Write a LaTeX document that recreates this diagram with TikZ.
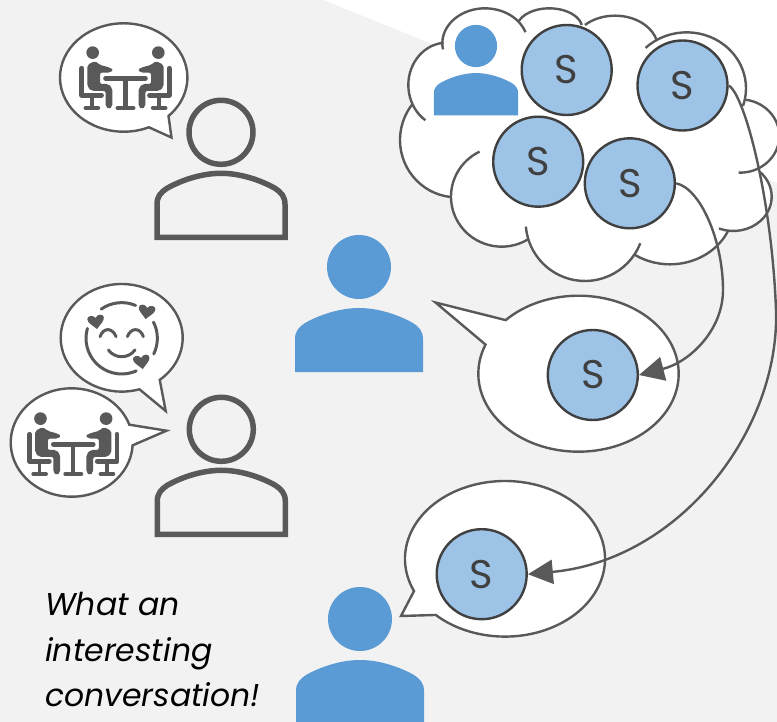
\documentclass[tikz,border=0pt]{standalone}
\usepackage{fontspec}
\setsansfont{Poppins}
\usetikzlibrary{arrows.meta}
\definecolor{backgray}{HTML}{F2F2F2}
\definecolor{linegray}{HTML}{595959}
\definecolor{darkgray}{HTML}{404040}
\definecolor{personblue}{HTML}{5B9BD5}
\definecolor{lightblue}{HTML}{9DC3E6}
\tikzset{
	personfig/.pic={
		\path[pic actions] (0,0) circle (32);
		\path[pic actions] (-64,105) -- (-64,72) .. controls (-64,64) and (-60,60) .. (-54,56) .. controls (-38,47) and (-18,41) .. (0,41) .. controls (18,41) and (38,47) .. (54,56) .. controls (60,60) and (64,64) .. (64,72) -- (64,105) -- cycle;
	},
	meetingfig/.pic={
		\foreach \s in {1,-1} {
			\begin{scope}[xscale=\s]
				\fill[linegray] (-98.5,-77) circle (19);
				\fill[linegray,rounded corners=2pt] (-114.5,-40) -- (-91.5,-52) -- (-76.5,-40) -- (-46.5,-32) -- (-36.5,-25) -- (-46.5,-17) -- (-76.5,-17) -- (-76.5,17) -- (-51.5,17) -- (-39.5,30) -- (-39.5,85) -- (-49.5,93) -- (-59.5,85) -- (-59.5,38) -- (-101.5,38) -- (-114.5,25) -- cycle;
				\draw[linegray,line width=4.8,line cap=round,line join=round] (-131,-30) -- (-131,51) -- (-72,51);
				\draw[linegray,line width=3.4] (-101,51) -- (-101,89);
				\draw[linegray,line width=4,line cap=round] (-120,89) -- (-82,89);
			\end{scope}
		}
		\draw[linegray,line width=4.6,line cap=round] (-60,0) -- (60,0);
		\draw[linegray,line width=4.2] (0,0) -- (0,89);
		\draw[linegray,line width=4,line cap=round] (-24,89) -- (24,89);
	},
	heartfig/.pic={
		\fill[linegray] (0,.9) .. controls (-.5,.35) and (-1,.05) .. (-1,-.4) .. controls (-1,-.8) and (-.3,-.95) .. (0,-.45) .. controls (.3,-.95) and (1,-.8) .. (1,-.4) .. controls (1,.05) and (.5,.35) .. (0,.9) -- cycle;
	},
	cloudline/.style={draw=linegray,line width=2.4},
	bubbleline/.style={draw=linegray,fill=white,line width=2.4,line join=miter},
	sharenode/.style={circle,draw=darkgray,fill=lightblue,line width=2.4,minimum size=90pt,inner sep=0pt,text=darkgray,font=\sffamily\fontsize{40}{44}\selectfont},
	sharelink/.style={linegray,line width=2.4,-{Triangle[length=25pt,width=24pt]}},
}
\begin{document}
\begin{tikzpicture}[x=1pt,y=-1pt]
	\clip (0,0) rectangle (777,722);
	\fill[white] (0,0) rectangle (777,722);
	\fill[backgray] (0,0) -- (323,0) -- (777,183) -- (777,722) -- (0,722) -- cycle;

	\begin{scope}[shift={(390,0)},x=.33333pt,y=-.33333pt]
		\def\cloudlobes{%
			285/130/128/105/170/341.5,%
			478/85/98.5/60/199.4/350.4,%
			675/145/129/98/225.6/345.3,%
			890/265/178/168/226.2/378.3,%
			1050/408/118/110/279/452,%
			1030/590/115/103/314/472,%
			840/620/192/173/25/123,%
			585/665/178/178/21.3/175.2,%
			335/590/152/150/58.8/244.2,%
			200/420/170/172/95.6/218.2,%
			170/255/115/127/123.8/265%
		}
		\foreach \cx/\cy/\rx/\ry/\a/\b in \cloudlobes {
			\fill[white] ({\cx+\rx*cos(\a)},{\cy+\ry*sin(\a)}) arc[start angle=\a,end angle=\b,x radius=\rx,y radius=\ry] -- cycle;
		}
		\fill[white] (160,128) -- (388,68) -- (580,78) -- (790,105) -- (1066,298) -- (1112,508) -- (1018,692) -- (735,765) -- (413,720) -- (183,592) -- (68,315) -- cycle;
		\foreach \cx/\cy/\rx/\ry/\a/\b in \cloudlobes {
			\draw[cloudline] ({\cx+\rx*cos(\a)},{\cy+\ry*sin(\a)}) arc[start angle=\a,end angle=\b,x radius=\rx,y radius=\ry];
		}
	\end{scope}
	\pic[fill=personblue,scale=.66] at (476,46) {personfig};

	\foreach \cx/\cy/\rx/\ry/\a/\b/\tx/\ty in {
		123.7/77.5/63.7/54.2/66.7/405.3/171.5/137.5,
		121.7/337.8/61/53.8/73.1/411.4/165.7/411,
		71.7/442.5/61/54.2/3/340.8/166.5/430.7,
		578.5/373.7/100.2/78/223.4/561.9/435.5/302.5,
		505/558.8/100/77.8/155.5/493.8/401/616} {
		\draw[bubbleline] (\tx,\ty) -- ({\cx+\rx*cos(\a)},{\cy+\ry*sin(\a)}) arc[start angle=\a,end angle=\b,x radius=\rx,y radius=\ry] -- cycle;
	}

	\pic[scale=.33333] at (125.5,78.3) {meetingfig};
	\pic[scale=.33333] at (73.3,444.3) {meetingfig};

	\begin{scope}[shift={(121.7,338.3)},x=.33333pt,y=-.33333pt]
		\draw[linegray,line width=3,line cap=round] (0,0) ++(196:107) arc[start angle=196,end angle=66,radius=107];
		\draw[linegray,line width=3,line cap=round] (0,0) ++(235:107) arc[start angle=235,end angle=293,radius=107];
		\draw[linegray,line width=3,line cap=round] (0,0) ++(333:107) arc[start angle=333,end angle=386,radius=107];
		\draw[linegray,line width=3,line cap=round] (-65,-5) .. controls (-55,-33) and (-28,-33) .. (-17,-5);
		\draw[linegray,line width=3,line cap=round] (17,-5) .. controls (28,-33) and (55,-33) .. (65,-5);
		\draw[linegray,line width=3,line cap=round] (-40,35) .. controls (-20,62) and (20,62) .. (40,35);
		\pic[scale=25,rotate=8] at (-77,-50) {heartfig};
		\pic[scale=25,rotate=-8] at (75,-80) {heartfig};
		\pic[scale=25,rotate=8] at (60,70) {heartfig};
	\end{scope}

	\pic[draw=linegray,line width=5.5] at (221,132.3) {personfig};
	\pic[draw=linegray,line width=5.5] at (221.3,429.3) {personfig};
	\pic[fill=personblue] at (359,267) {personfig};
	\pic[fill=personblue] at (360,619) {personfig};

	\node[sharenode] (sone) at (566.7,70) {S};
	\node[sharenode] (stwo) at (682.5,85.5) {S};
	\node[sharenode] (sthree) at (538.2,161.7) {S};
	\node[sharenode] (sfour) at (629.8,183.3) {S};
	\node[sharenode] (sfive) at (592.8,375) {S};
	\node[sharenode] (ssix) at (481.7,574.2) {S};

	\draw[sharelink] (sfour.east) .. controls (700,188) and (723,240) .. (723,290) .. controls (723,330) and (690,362) .. (sfive.east);
	\draw[sharelink] (stwo.east) .. controls (745,95) and (772,200) .. (776,310) .. controls (780,430) and (680,560) .. (ssix.east);

	\node[anchor=north west,align=left,inner sep=0pt,font=\sffamily\itshape\fontsize{31.5}{45.5}\selectfont,text=black] (caption) at (45,592) {What an\\interesting\\conversation!};
\end{tikzpicture}
\end{document}
